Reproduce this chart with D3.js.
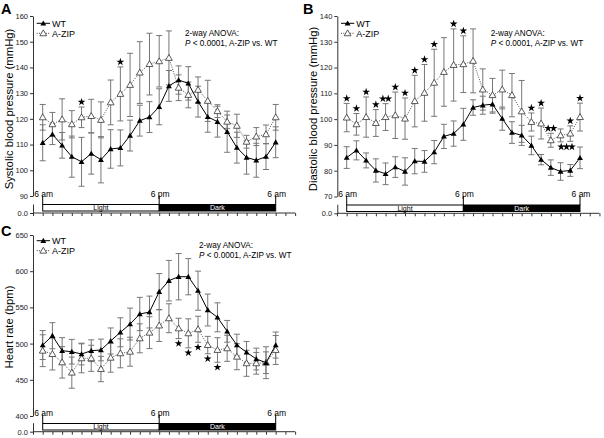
<!DOCTYPE html>
<html><head><meta charset="utf-8">
<script src="https://cdn.jsdelivr.net/npm/d3@7"></script>
<style>body{margin:0;background:#fff} svg{font-family:Arial,"Liberation Sans",Helvetica,sans-serif}</style>
</head><body><svg id="c" width="604" height="438"></svg>
<script>
// ---------- DATA ----------
const hourIndex = d3.range(25);            // hourly, 6 am -> 6 am
const dayLabels = ["6 am", "6 pm", "6 am"];
const dayLabelIdx = [0, 12, 24];
const periodNames = ["Light", "Dark"];
const seriesNames = ["WT", "A-ZIP"];
const anovaLine1 = "2-way ANOVA:";
const anovaLine2 = " < 0.0001, A-ZIP vs. WT";

// Panel A: systolic BP (mmHg)
const sbpTicks = [90, 100, 110, 120, 130, 140, 150, 160];
const sbpWT    = [110.7,114,109.7,105.3,103.3,106.5,104.1,108.3,108.7,113.5,119.3,120.7,124.7,132.8,135.1,133.8,126.7,120.8,118.9,115,108.8,105,103.9,105.3,110.9];
const sbpWTse  = [7,4,5,8,9.5,8,9,7.5,7,6,6,6,7,6,5.5,6.5,6,6,6,8,6,6.5,6.6,5,6];
const sbpZIP   = [120.6,117.9,119.8,117.9,120.6,121.1,119.6,126.4,129.7,133.2,138,141.3,142.4,143.7,132.1,129.3,131.3,127,123,118.9,117.3,111.1,113.1,114,120.6];
const sbpZIPse = [5,4.6,8,5.3,4,6.5,7,8.7,10.5,12.3,12,12,10,10.5,5,5,5,8,2.5,2.6,4.5,2.5,3.5,3.6,5];
const sigA = [{i:4,n:1,pos:"above"},{i:8,n:1,pos:"above"}];

// Panel B: diastolic BP (mmHg)
const dbpTicks = [70, 80, 90, 100, 110, 120, 130, 140];
const dbpWT    = [85.1,87.9,84,80.1,78.8,81.4,79.7,83.7,83.6,87.2,93.3,94.4,98,104.5,105.4,105.8,100.2,94.8,93.7,89.8,84.3,81.2,79.7,80.1,85];
const dbpWTse  = [4.2,3.7,2.9,4.5,4.2,4,5.3,4.9,4.2,4.5,4.7,4.9,6.2,3,3.5,3.5,4.5,4.2,3.9,3.6,2,3,3.4,2.3,4.2];
const dbpZIP   = [100.6,98,100.8,98.5,100.8,101.5,100.2,107,110.2,114.1,118.3,121,121.3,122.6,111.5,109.3,111.5,109.3,103,98.9,98.3,91.8,93.7,94.4,100.8];
const dbpZIPse = [5.5,4.2,7.8,5.2,5.2,9,8,10,11,13,13.3,14,11,12.4,8,6.5,7.5,8.4,12,3.5,6,2.7,2.5,3,5.4];
const sigB = [{i:0,n:1,pos:"above"},{i:1,n:1,pos:"above"},{i:2,n:1,pos:"above"},{i:3,n:1,pos:"above"},
              {i:4,n:2,pos:"above"},{i:5,n:1,pos:"above"},{i:6,n:1,pos:"above"},{i:7,n:1,pos:"above"},
              {i:8,n:1,pos:"above"},{i:9,n:1,pos:"above"},{i:11,n:1,pos:"above"},{i:12,n:1,pos:"above"},
              {i:19,n:1,pos:"above"},{i:20,n:1,pos:"above"},{i:21,n:2,pos:"above"},{i:22,n:3,pos:"below"},
              {i:23,n:1,pos:"above"},{i:24,n:1,pos:"above"}];

// Panel C: heart rate (bpm)
const hrTicks = [400, 450, 500, 550, 600, 650];
const hrWT    = [498,510.9,490.2,488.8,485.6,490.2,491.2,503.6,515.6,527,540.9,543.6,571.7,586.9,592.4,592.4,573.1,546.4,536.3,517,498,488,478.7,473.6,498];
const hrWTse  = [20,18,18,17,15,15,15,18,20,22,23,22,25,28,32,25,27,22,20,15,15,15,15,22,18];
const hrZIP   = [490.2,485.6,474.1,459.9,479.7,479.7,464.9,480.5,486.6,488.8,507.3,515.1,525,535,521,514.2,519.8,498,491.2,493.5,481.9,472.8,472.8,473.6,491.2];
const hrZIPse = [22,22,21.7,21.5,20,18,17.5,20,20,20,20,22,22,20,14,20,18,12,17,18,18,18,15,15,20];
const sigC = [{i:14,n:1,pos:"below"},{i:15,n:1,pos:"below"},{i:16,n:1,pos:"below"},{i:17,n:1,pos:"below"},{i:18,n:1,pos:"below"}];

// ---------- DRAW ----------
const svg = d3.select("#c");
const ERR = "#777";

function panel(cfg) {
  const g = svg.append("g");
  const x = d3.scaleLinear().domain([0, 24]).range([cfg.x0, cfg.x24]);
  const y = d3.scaleLinear().domain([cfg.ticks[0], cfg.ticks[cfg.ticks.length - 1]]).range([cfg.yBot, cfg.yTop]);

  // y axis
  const ya = g.append("g").attr("transform", `translate(${cfg.ax},0)`)
    .call(d3.axisLeft(y).tickValues(cfg.ticks).tickSize(3).tickSizeOuter(0).tickPadding(2));
  ya.selectAll("path,line").attr("stroke", "#333");
  ya.selectAll("text").attr("font-size", 7.5).attr("fill", "#222").attr("font-family", "Arial, Liberation Sans, sans-serif");

  // zero segment
  const y0 = d3.scaleLinear().domain([0, 1]).range([cfg.zeroY, cfg.zeroY - 9]);
  const za = g.append("g").attr("transform", `translate(${cfg.ax},0)`)
    .call(d3.axisLeft(y0).tickValues([0]).tickSize(3).tickSizeOuter(0).tickPadding(2));
  za.selectAll("path,line").attr("stroke", "#333");
  za.selectAll("text").attr("font-size", 7.5).attr("fill", "#222").attr("font-family", "Arial, Liberation Sans, sans-serif");

  // x time axis
  const xa = g.append("g").attr("transform", `translate(0,${cfg.zeroY})`)
    .call(d3.axisBottom(x).tickValues(d3.range(-1, 27)).tickSize(3).tickSizeOuter(0).tickFormat(""));
  xa.select("path").attr("d", `M${x(-1)},0H${x(26)}`);
  xa.selectAll("path,line").attr("stroke", "#333");

  // light / dark bars
  g.append("rect").attr("x", x(0)).attr("y", cfg.barTop).attr("width", x(12) - x(0)).attr("height", cfg.barH)
    .attr("fill", "#fff").attr("stroke", "#000").attr("stroke-width", 1);
  g.append("rect").attr("x", x(12)).attr("y", cfg.barTop).attr("width", x(24) - x(12)).attr("height", cfg.barH)
    .attr("fill", "#000").attr("stroke", "#000").attr("stroke-width", 1);
  g.append("text").attr("x", x(6)).attr("y", cfg.barTop + cfg.barH / 2 + 2.5).attr("text-anchor", "middle")
    .attr("font-size", 7).attr("fill", "#000").text(periodNames[0]);
  g.append("text").attr("x", x(18)).attr("y", cfg.barTop + cfg.barH / 2 + 2.5).attr("text-anchor", "middle")
    .attr("font-size", 7).attr("fill", "#fff").text(periodNames[1]);
  dayLabelIdx.forEach((d, k) => {
    g.append("line").attr("x1", x(d)).attr("x2", x(d)).attr("y1", cfg.barTop - 9).attr("y2", cfg.barTop).attr("stroke", "#000");
    g.append("text").attr("x", x(d) + 1).attr("y", cfg.barTop - 8).attr("text-anchor", "middle")
      .attr("font-size", 8.5).text(dayLabels[k]);
  });

  // error bars
  function errs(vals, se) {
    const eg = g.append("g").attr("stroke", ERR).attr("stroke-width", 1);
    hourIndex.forEach(i => {
      const xi = x(i), t = y(vals[i] + se[i]), b = y(vals[i] - se[i]);
      eg.append("line").attr("x1", xi).attr("x2", xi).attr("y1", t).attr("y2", b);
      eg.append("line").attr("x1", xi - 3).attr("x2", xi + 3).attr("y1", t).attr("y2", t);
      eg.append("line").attr("x1", xi - 3).attr("x2", xi + 3).attr("y1", b).attr("y2", b);
    });
  }
  errs(cfg.zip, cfg.zipSe);
  errs(cfg.wt, cfg.wtSe);

  g.append("path").datum(hourIndex).attr("fill", "none").attr("stroke", "#444").attr("stroke-width", 0.9)
    .attr("stroke-dasharray", "1,1.3")
    .attr("d", d3.line().x(i => x(i)).y(i => y(cfg.zip[i])));
  g.append("path").datum(hourIndex).attr("fill", "none").attr("stroke", "#000").attr("stroke-width", 1)
    .attr("d", d3.line().x(i => x(i)).y(i => y(cfg.wt[i])));

  const triOpen = d3.symbol().type(d3.symbolTriangle).size(20);
  const triFill = d3.symbol().type(d3.symbolTriangle).size(15);
  g.append("g").selectAll("path").data(hourIndex).join("path")
    .attr("transform", i => `translate(${x(i)},${y(cfg.zip[i]) + 0.5})`).attr("d", triOpen())
    .attr("fill", "#fff").attr("stroke", "#333").attr("stroke-width", 0.8);
  g.append("g").selectAll("path").data(hourIndex).join("path")
    .attr("transform", i => `translate(${x(i)},${y(cfg.wt[i]) + 0.5})`).attr("d", triFill())
    .attr("fill", "#000");

  // significance stars
  const star = d3.symbol().type(d3.symbolStar).size(19);
  cfg.sig.forEach(s => {
    const v = cfg.zip[s.i], e = cfg.zipSe[s.i];
    const yy = s.pos === "above" ? y(v + e) - 5 : y(v - e) + 5;
    for (let k = 0; k < s.n; k++) {
      const xx = x(s.i) + (k - (s.n - 1) / 2) * 5.4 + (s.pos === "below" && s.n > 1 ? 6 : 0);
      g.append("path").attr("transform", `translate(${xx},${yy})`).attr("d", star()).attr("fill", "#000");
    }
  });

  // legend
  const lg = g.append("g");
  [[cfg.legY, true], [cfg.legY + 10, false]].forEach(([ly, isWT]) => {
    lg.append("line").attr("x1", cfg.ax + 3.7).attr("x2", cfg.ax + 17).attr("y1", ly).attr("y2", ly)
      .attr("stroke", isWT ? "#000" : "#444").attr("stroke-dasharray", isWT ? null : "1,1.3");
    lg.append("path").attr("transform", `translate(${cfg.ax + 10.3},${ly + 0.5})`)
      .attr("d", isWT ? triFill() : triOpen()).attr("fill", isWT ? "#000" : "#fff").attr("stroke", isWT ? null : "#333").attr("stroke-width", 0.8);
    lg.append("text").attr("x", cfg.ax + 19).attr("y", ly + 3.2).attr("font-size", 9).text(seriesNames[isWT ? 0 : 1]);
  });

  // ANOVA note
  g.append("text").attr("x", cfg.anX).attr("y", cfg.anY).attr("font-size", 8.2).text(anovaLine1);
  const t2 = g.append("text").attr("x", cfg.anX).attr("y", cfg.anY + 10).attr("font-size", 8.2);
  t2.append("tspan").attr("font-style", "italic").text("P");
  t2.append("tspan").text(anovaLine2);

  // y title
  g.append("text").attr("transform", `translate(${cfg.titleX},${cfg.titleY}) rotate(-90)`)
    .attr("text-anchor", "middle").attr("font-size", 11.3).text(cfg.title);

  // panel letter
  g.append("text").attr("x", cfg.letX).attr("y", cfg.letY).attr("font-size", 14.5).attr("font-weight", "bold").text(cfg.letter);
}

panel({letter:"A", letX:1, letY:14, title:"Systolic blood pressure (mmHg)", titleX:12.5, titleY:109,
  ticks:sbpTicks, wt:sbpWT, wtSe:sbpWTse, zip:sbpZIP, zipSe:sbpZIPse, sig:sigA,
  ax:33, x0:42.7, x24:275.7, yTop:16, yBot:196, zeroY:213, barTop:204.5, barH:6.5,
  legY:23.3, anX:185, anY:36});
panel({letter:"B", letX:303, letY:14, title:"Diastolic blood pressure (mmHg)", titleX:316.5, titleY:109,
  ticks:dbpTicks, wt:dbpWT, wtSe:dbpWTse, zip:dbpZIP, zipSe:dbpZIPse, sig:sigB,
  ax:337.3, x0:346.7, x24:580, yTop:16, yBot:196.5, zeroY:213.3, barTop:205, barH:6.5,
  legY:23.3, anX:490.7, anY:36});
panel({letter:"C", letX:1, letY:236, title:"Heart rate (bpm)", titleX:12.5, titleY:327,
  ticks:hrTicks, wt:hrWT, wtSe:hrWTse, zip:hrZIP, zipSe:hrZIPse, sig:sigC,
  ax:33, x0:42.7, x24:275.7, yTop:235, yBot:416, zeroY:431.7, barTop:423.5, barH:6.5,
  legY:240.7, anX:199, anY:248});
</script></body></html>
